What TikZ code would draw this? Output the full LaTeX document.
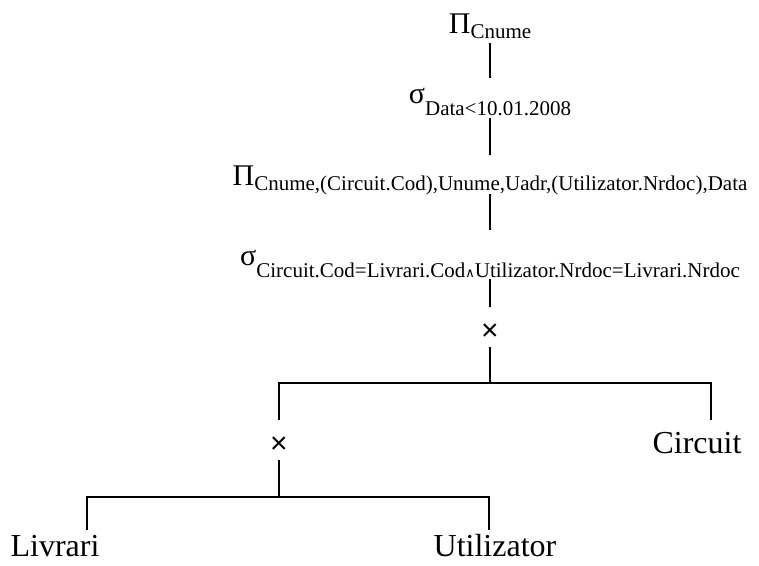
\documentclass[tikz,border=0pt]{standalone}
\usepackage{fontspec}
\setmainfont{Liberation Serif}
\newfontfamily\crossfont{Liberation Sans}
\newfontfamily\wedgefont{DejaVu Sans}
\usetikzlibrary{positioning}

\newcommand{\opsize}{\fontsize{30}{30}\selectfont}
\newcommand{\subsize}{\fontsize{21}{21}\selectfont}
\newcommand{\proj}[1]{{\opsize Π}\raisebox{-5pt}{\subsize #1}}
\newcommand{\sel}[1]{{\opsize σ}\raisebox{-12pt}{\subsize #1}}
\newcommand{\andop}{{\wedgefont\fontsize{13}{13}\selectfont ∧}}

\begin{document}
\begin{tikzpicture}[x=1pt,y=-1pt,every node/.style={inner sep=0,outer sep=0},
    rel/.style={text height=30pt,text depth=12pt},
    cross/.style={text height=33pt,text depth=7pt,font=\crossfont\fontsize{30}{30}\selectfont},
    leaf/.style={text height=33pt,text depth=8pt,font=\fontsize{32}{32}\selectfont},
    edge/.style={line width=2pt}]
      \useasboundingbox (0,0) rectangle (759,565);

      \node(pc)[rel,anchor=base,text depth=10pt] at (490,33){\proj{Cnume}};
      \node(sd)[rel,below=35pt of pc,text height=25pt,text depth=15pt]{\sel{Data<10.01.2008}};
      \node(pl)[rel,below=37pt of sd,text depth=9pt]{\proj{Cnume,(Circuit.Cod),Unume,Uadr,(Utilizator.Nrdoc),Data}};
      \node(sc)[rel,below=36pt of pl,text height=35pt,text depth=14pt]{\sel{Circuit.Cod=Livrari.Cod\andop Utilizator.Nrdoc=Livrari.Nrdoc}};
      \node(t1)[cross,below=28pt of sc]{×};

      \coordinate[below=36pt of t1](j1);
      \coordinate[left=211pt of j1](l1);
      \coordinate[right=221pt of j1](r1);

      \node(t2)[cross,below=37pt of l1]{×};
      \node(circuit)[leaf,below=37pt of r1,xshift=-14pt]{Circuit};

      \coordinate[below=37pt of t2](j2);
      \coordinate[left=192pt of j2](l2);
      \coordinate[right=210pt of j2](r2);

      \node(livrari)[leaf,below=33pt of l2,xshift=-32pt,text height=26pt,text depth=0pt]{Livrari};
      \node(utilizator)[leaf,below=33pt of r2,xshift=6pt,text height=26pt,text depth=0pt]{Utilizator};

      \draw[edge](pc)--(sd) (sd)--(pl) (pl)--(sc) (sc)--(t1) (t1)--(j1);
      \draw[edge](t2)--(l1)--(r1)--(r1 |- circuit.north);
      \draw[edge](t2)--(j2);
      \draw[edge](l2 |- livrari.north)--(l2)--(r2)--(r2 |- utilizator.north);
    \end{tikzpicture}
\end{document}
